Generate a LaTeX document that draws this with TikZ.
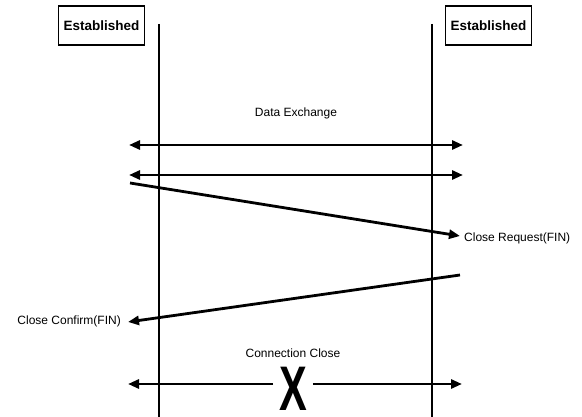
\documentclass[tikz,border=0pt]{standalone}
\usepackage{fontspec}
\setmainfont{Liberation Sans}
\usetikzlibrary{arrows.meta}
\begin{document}
\begin{tikzpicture}[x=1pt,y=-1pt,
  statebox/.style={draw,line width=1.8pt,minimum width=86pt,minimum height=39pt,inner sep=0pt,font=\fontsize{13.5}{13.5}\selectfont\bfseries},
  life/.style={line width=1.8pt},
  msg/.style={line width=2.8pt,-{Triangle[length=11pt,width=9pt]}},
  dmsg/.style={line width=2.8pt,{Triangle[length=11pt,width=9pt]}-{Triangle[length=11pt,width=9pt]}},
  lbl/.style={font=\fontsize{12}{12}\selectfont,inner sep=0pt}]
\useasboundingbox (0,0) rectangle (582,417);
\node[statebox] (la) at (101.5,25.5) {Established};
\node[statebox] (ra) at (488.5,25.5) {Established};
\coordinate (lt) at (159,24);
\coordinate (lb) at (159,417);
\coordinate (rt) at (432,24);
\coordinate (rb) at (432,417);
\draw[life] (lt) -- (lb);
\draw[life] (rt) -- (rb);
\node[lbl] (de) at (296,113) {Data Exchange};
\coordinate (d1l) at (129,145);
\coordinate (d1r) at (463,145);
\coordinate (d2l) at (129,175);
\coordinate (d2r) at (463,175);
\draw[dmsg] (d1l) -- (d1r);
\draw[dmsg] (d2l) -- (d2r);
\coordinate (crs) at (130,183);
\coordinate (cre) at (460,236);
\draw[msg] (crs) -- (cre);
\node[lbl,anchor=west] (crl) at (464,238) {Close Request(FIN)};
\coordinate (ccs) at (460,275);
\coordinate (cce) at (128,322);
\draw[msg] (ccs) -- (cce);
\node[lbl,anchor=east] (ccl) at (121,321) {Close Confirm(FIN)};
\node[lbl] (ccn) at (293,353) {Connection Close};
\node[inner sep=0pt,outer xsep=6pt,text depth=0pt,anchor=base,font=\fontsize{63}{63}\selectfont\bfseries] (x) at (293,410) {\scalebox{0.66}[1]{X}};
\coordinate (xl) at (128,384);
\coordinate (xr) at (462,384);
\draw[msg] (x.west |- xl) -- (xl);
\draw[msg] (x.east |- xr) -- (xr);
\end{tikzpicture}
\end{document}
